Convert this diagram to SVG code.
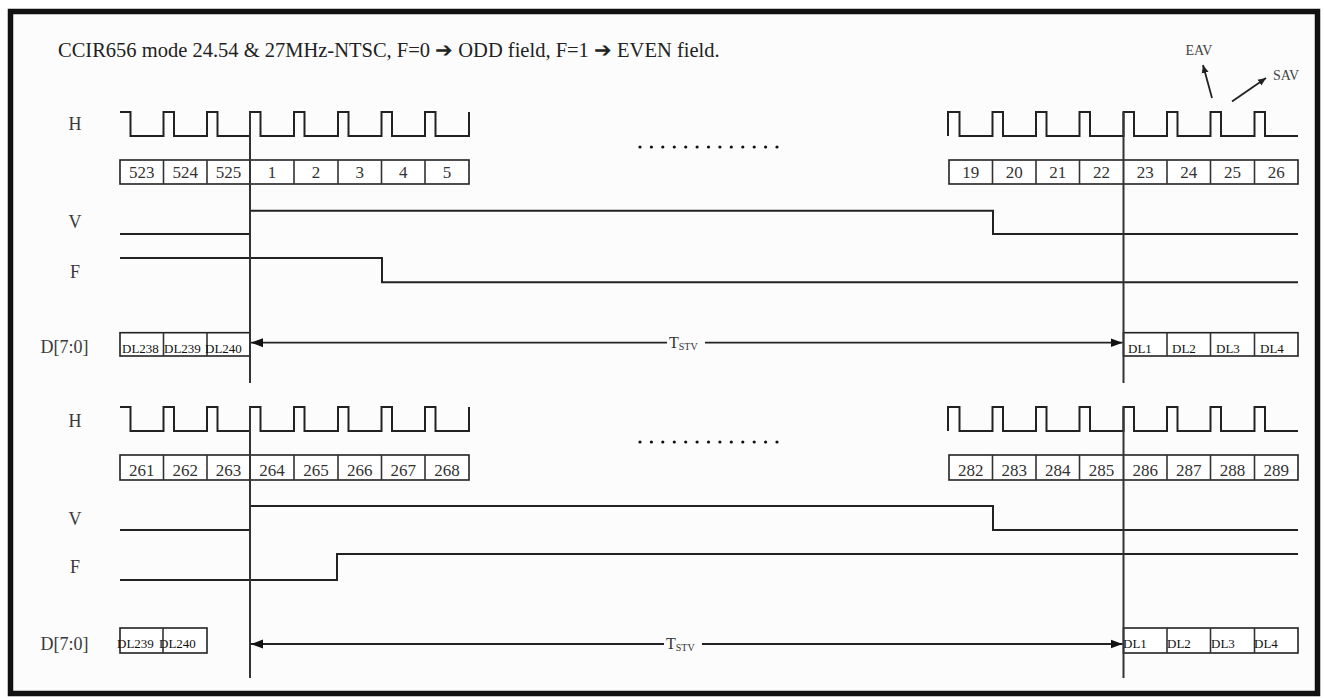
<svg xmlns="http://www.w3.org/2000/svg" width="1324" height="698" viewBox="0 0 1324 698">
<style>
  .lbl { font-family: "Liberation Serif", "Times New Roman", serif; font-size: 18px; fill: #3a3a3a; text-anchor: middle; }
  .num { font-family: "Liberation Serif", "Times New Roman", serif; font-size: 17px; fill: #333; text-anchor: middle; }
  .dl { font-family: "Liberation Serif", "Times New Roman", serif; font-size: 13px; fill: #111; }
  .sm { font-family: "Liberation Serif", "Times New Roman", serif; font-size: 14px; fill: #444; }
  .wave { fill: none; stroke: #222; stroke-width: 2; }
  .box { fill: #fff; stroke: #222; stroke-width: 1.6; }
  .div { stroke: #333; stroke-width: 1.6; }
  .mark { stroke: #333; stroke-width: 2; }
  .arr { stroke: #222; stroke-width: 1.8; fill: none; }
  .dot { fill: #111; }
</style>
<defs>
  <marker id="ah" markerUnits="userSpaceOnUse" markerWidth="13" markerHeight="10" refX="12" refY="5" orient="auto-start-reverse">
    <path d="M0,0.5 L12,5 L0,9.5 z" fill="#111"/>
  </marker>
  <marker id="ahs" markerUnits="userSpaceOnUse" markerWidth="9" markerHeight="8" refX="8" refY="4" orient="auto">
    <path d="M0,0.5 L8,4 L0,7.5 z" fill="#222"/>
  </marker>
</defs>
<rect x="0" y="0" width="1324" height="698" fill="#fff"/>
<rect x="10.5" y="11.5" width="1307" height="682" fill="#fcfcfc" stroke="#111" stroke-width="5.5"/>

<g id="title">
  <text x="58" y="57" font-family="Liberation Serif, 'Times New Roman', serif" font-size="20.5" fill="#222">CCIR656 mode 24.54 &amp; 27MHz-NTSC, F=0 ➔ ODD field, F=1 ➔ EVEN field.</text>
</g>

<!-- ===== Top section ===== -->
<g id="labels-top">
  <text class="lbl" x="75" y="130">H</text>
  <text class="lbl" x="75" y="228">V</text>
  <text class="lbl" x="75" y="278">F</text>
  <text class="lbl" x="64.5" y="353">D[7:0]</text>
</g>

<g id="h-top">
  <path class="wave" d="M120,112 H130.5 V136 H163.5 V112 H174 V136 H207 V112 H217.5 V136 H250 V112 H260.5 V136 H294 V112 H304.5 V136 H338 V112 H348.5 V136 H381.5 V112 H392 V136 H425 V112 H435.5 V136 H469 V112"/>
  <path class="wave" d="M948,136 V112 H959.5 V136 H992.5 V112 H1003 V136 H1036 V112 H1046.5 V136 H1079.5 V112 H1090 V136 H1123.5 V112 H1134 V136 H1167 V112 H1177.5 V136 H1210.5 V112 H1221 V136 H1254.5 V112 H1265 V136 H1298"/>
</g>

<g id="dots-top">
  <circle class="dot" cx="640" cy="147" r="1.6"/><circle class="dot" cx="651.4" cy="147" r="1.6"/><circle class="dot" cx="662.8" cy="147" r="1.6"/><circle class="dot" cx="674.3" cy="147" r="1.6"/><circle class="dot" cx="685.7" cy="147" r="1.6"/><circle class="dot" cx="697.1" cy="147" r="1.6"/><circle class="dot" cx="708.5" cy="147" r="1.6"/><circle class="dot" cx="719.9" cy="147" r="1.6"/><circle class="dot" cx="731.3" cy="147" r="1.6"/><circle class="dot" cx="742.8" cy="147" r="1.6"/><circle class="dot" cx="754.2" cy="147" r="1.6"/><circle class="dot" cx="765.6" cy="147" r="1.6"/><circle class="dot" cx="777" cy="147" r="1.6"/>
</g>

<g id="lines-top-left">
  <rect class="box" x="120" y="160" width="349" height="24"/>
  <line class="div" x1="163.5" y1="160" x2="163.5" y2="184"/>
  <line class="div" x1="207" y1="160" x2="207" y2="184"/>
  <line class="div" x1="294" y1="160" x2="294" y2="184"/>
  <line class="div" x1="338" y1="160" x2="338" y2="184"/>
  <line class="div" x1="381.5" y1="160" x2="381.5" y2="184"/>
  <line class="div" x1="425" y1="160" x2="425" y2="184"/>
  <text class="num" x="141.8" y="178">523</text>
  <text class="num" x="185.3" y="178">524</text>
  <text class="num" x="228.5" y="178">525</text>
  <text class="num" x="272" y="178">1</text>
  <text class="num" x="316" y="178">2</text>
  <text class="num" x="359.8" y="178">3</text>
  <text class="num" x="403.3" y="178">4</text>
  <text class="num" x="447" y="178">5</text>
</g>

<g id="lines-top-right">
  <rect class="box" x="949" y="160" width="349" height="24"/>
  <line class="div" x1="992.5" y1="160" x2="992.5" y2="184"/>
  <line class="div" x1="1036" y1="160" x2="1036" y2="184"/>
  <line class="div" x1="1079.5" y1="160" x2="1079.5" y2="184"/>
  <line class="div" x1="1167" y1="160" x2="1167" y2="184"/>
  <line class="div" x1="1210.5" y1="160" x2="1210.5" y2="184"/>
  <line class="div" x1="1254.5" y1="160" x2="1254.5" y2="184"/>
  <text class="num" x="970.8" y="178">19</text>
  <text class="num" x="1014.3" y="178">20</text>
  <text class="num" x="1057.8" y="178">21</text>
  <text class="num" x="1101.5" y="178">22</text>
  <text class="num" x="1145.3" y="178">23</text>
  <text class="num" x="1188.8" y="178">24</text>
  <text class="num" x="1232.5" y="178">25</text>
  <text class="num" x="1276.3" y="178">26</text>
</g>

<g id="v-top">
  <path class="wave" d="M120,234 H250 V210.7 H993 V234 H1298"/>
</g>
<g id="f-top">
  <path class="wave" d="M120,258 H382 V282.3 H1298"/>
</g>

<g id="d-top-left">
  <rect class="box" x="120" y="332.7" width="130" height="23.3"/>
  <line class="div" x1="163.5" y1="332.7" x2="163.5" y2="356"/>
  <line class="div" x1="207" y1="332.7" x2="207" y2="356"/>
  <text class="dl" x="122" y="352.5">DL238</text>
  <text class="dl" x="164" y="352.5">DL239</text>
  <text class="dl" x="205" y="352.5">DL240</text>
</g>
<g id="d-top-right">
  <rect class="box" x="1123.5" y="332.7" width="174.5" height="23.3"/>
  <line class="div" x1="1167" y1="332.7" x2="1167" y2="356"/>
  <line class="div" x1="1210.5" y1="332.7" x2="1210.5" y2="356"/>
  <line class="div" x1="1254.5" y1="332.7" x2="1254.5" y2="356"/>
  <text class="dl" x="1128" y="352.5">DL1</text>
  <text class="dl" x="1172" y="352.5">DL2</text>
  <text class="dl" x="1216" y="352.5">DL3</text>
  <text class="dl" x="1260" y="352.5">DL4</text>
</g>

<!-- ===== Bottom section ===== -->
<g id="labels-bottom">
  <text class="lbl" x="75" y="427">H</text>
  <text class="lbl" x="75" y="525">V</text>
  <text class="lbl" x="75" y="573">F</text>
  <text class="lbl" x="64.5" y="650">D[7:0]</text>
</g>

<g id="h-bottom">
  <path class="wave" d="M120,407 H130.5 V431 H163.5 V407 H174 V431 H207 V407 H217.5 V431 H250 V407 H260.5 V431 H294 V407 H304.5 V431 H338 V407 H348.5 V431 H381.5 V407 H392 V431 H425 V407 H435.5 V431 H469 V407"/>
  <path class="wave" d="M948,431 V407 H959.5 V431 H992.5 V407 H1003 V431 H1036 V407 H1046.5 V431 H1079.5 V407 H1090 V431 H1123.5 V407 H1134 V431 H1167 V407 H1177.5 V431 H1210.5 V407 H1221 V431 H1254.5 V407 H1265 V431 H1298"/>
</g>

<g id="dots-bottom">
  <circle class="dot" cx="640" cy="442" r="1.6"/><circle class="dot" cx="651.4" cy="442" r="1.6"/><circle class="dot" cx="662.8" cy="442" r="1.6"/><circle class="dot" cx="674.3" cy="442" r="1.6"/><circle class="dot" cx="685.7" cy="442" r="1.6"/><circle class="dot" cx="697.1" cy="442" r="1.6"/><circle class="dot" cx="708.5" cy="442" r="1.6"/><circle class="dot" cx="719.9" cy="442" r="1.6"/><circle class="dot" cx="731.3" cy="442" r="1.6"/><circle class="dot" cx="742.8" cy="442" r="1.6"/><circle class="dot" cx="754.2" cy="442" r="1.6"/><circle class="dot" cx="765.6" cy="442" r="1.6"/><circle class="dot" cx="777" cy="442" r="1.6"/>
</g>

<g id="lines-bottom-left">
  <rect class="box" x="120" y="455" width="349" height="25"/>
  <line class="div" x1="163.5" y1="455" x2="163.5" y2="480"/>
  <line class="div" x1="207" y1="455" x2="207" y2="480"/>
  <line class="div" x1="294" y1="455" x2="294" y2="480"/>
  <line class="div" x1="338" y1="455" x2="338" y2="480"/>
  <line class="div" x1="381.5" y1="455" x2="381.5" y2="480"/>
  <line class="div" x1="425" y1="455" x2="425" y2="480"/>
  <text class="num" x="141.8" y="476">261</text>
  <text class="num" x="185.3" y="476">262</text>
  <text class="num" x="228.5" y="476">263</text>
  <text class="num" x="272" y="476">264</text>
  <text class="num" x="316" y="476">265</text>
  <text class="num" x="359.8" y="476">266</text>
  <text class="num" x="403.3" y="476">267</text>
  <text class="num" x="447" y="476">268</text>
</g>

<g id="lines-bottom-right">
  <rect class="box" x="949" y="455" width="349" height="25"/>
  <line class="div" x1="992.5" y1="455" x2="992.5" y2="480"/>
  <line class="div" x1="1036" y1="455" x2="1036" y2="480"/>
  <line class="div" x1="1079.5" y1="455" x2="1079.5" y2="480"/>
  <line class="div" x1="1167" y1="455" x2="1167" y2="480"/>
  <line class="div" x1="1210.5" y1="455" x2="1210.5" y2="480"/>
  <line class="div" x1="1254.5" y1="455" x2="1254.5" y2="480"/>
  <text class="num" x="970.8" y="476">282</text>
  <text class="num" x="1014.3" y="476">283</text>
  <text class="num" x="1057.8" y="476">284</text>
  <text class="num" x="1101.5" y="476">285</text>
  <text class="num" x="1145.3" y="476">286</text>
  <text class="num" x="1188.8" y="476">287</text>
  <text class="num" x="1232.5" y="476">288</text>
  <text class="num" x="1276.3" y="476">289</text>
</g>

<g id="v-bottom">
  <path class="wave" d="M120,530 H250 V506 H993 V530 H1298"/>
</g>
<g id="f-bottom">
  <path class="wave" d="M120,580 H337 V554 H1298"/>
</g>

<g id="d-bottom-left">
  <rect class="box" x="120" y="628" width="87" height="25"/>
  <line class="div" x1="163" y1="628" x2="163" y2="653"/>
  <text class="dl" x="117" y="647.5">DL239</text>
  <text class="dl" x="159" y="647.5">DL240</text>
</g>
<g id="d-bottom-right">
  <rect class="box" x="1123.5" y="628" width="174.5" height="25"/>
  <line class="div" x1="1167" y1="628" x2="1167" y2="653"/>
  <line class="div" x1="1210.5" y1="628" x2="1210.5" y2="653"/>
  <line class="div" x1="1254.5" y1="628" x2="1254.5" y2="653"/>
  <text class="dl" x="1123" y="647.5">DL1</text>
  <text class="dl" x="1167" y="647.5">DL2</text>
  <text class="dl" x="1211" y="647.5">DL3</text>
  <text class="dl" x="1254" y="647.5">DL4</text>
</g>

<g id="annotations">
  <text class="sm" x="1199" y="55" text-anchor="middle">EAV</text>
  <text class="sm" x="1286" y="80" text-anchor="middle">SAV</text>
  <text x="669" y="348" font-family="Liberation Serif, 'Times New Roman', serif" font-size="16" fill="#333">T<tspan font-size="10" dy="2">STV</tspan></text>
  <text x="666" y="649" font-family="Liberation Serif, 'Times New Roman', serif" font-size="16" fill="#333">T<tspan font-size="10" dy="2">STV</tspan></text>
</g>

<g id="connectors">
  <line class="mark" x1="250" y1="112" x2="250" y2="383"/>
  <line class="mark" x1="1123.5" y1="112" x2="1123.5" y2="383"/>
  <line class="mark" x1="250" y1="407" x2="250" y2="678"/>
  <line class="mark" x1="1123.5" y1="407" x2="1123.5" y2="678"/>
  <line class="arr" x1="251" y1="342.7" x2="667" y2="342.7" marker-start="url(#ah)"/>
  <line class="arr" x1="705" y1="342.7" x2="1122.5" y2="342.7" marker-end="url(#ah)"/>
  <line class="arr" x1="251" y1="644" x2="664" y2="644" marker-start="url(#ah)"/>
  <line class="arr" x1="702" y1="644" x2="1122.5" y2="644" marker-end="url(#ah)"/>
  <line class="arr" x1="1212" y1="98" x2="1203" y2="65" marker-end="url(#ahs)"/>
  <line class="arr" x1="1232" y1="101.5" x2="1266" y2="78" marker-end="url(#ahs)"/>
</g>
</svg>
